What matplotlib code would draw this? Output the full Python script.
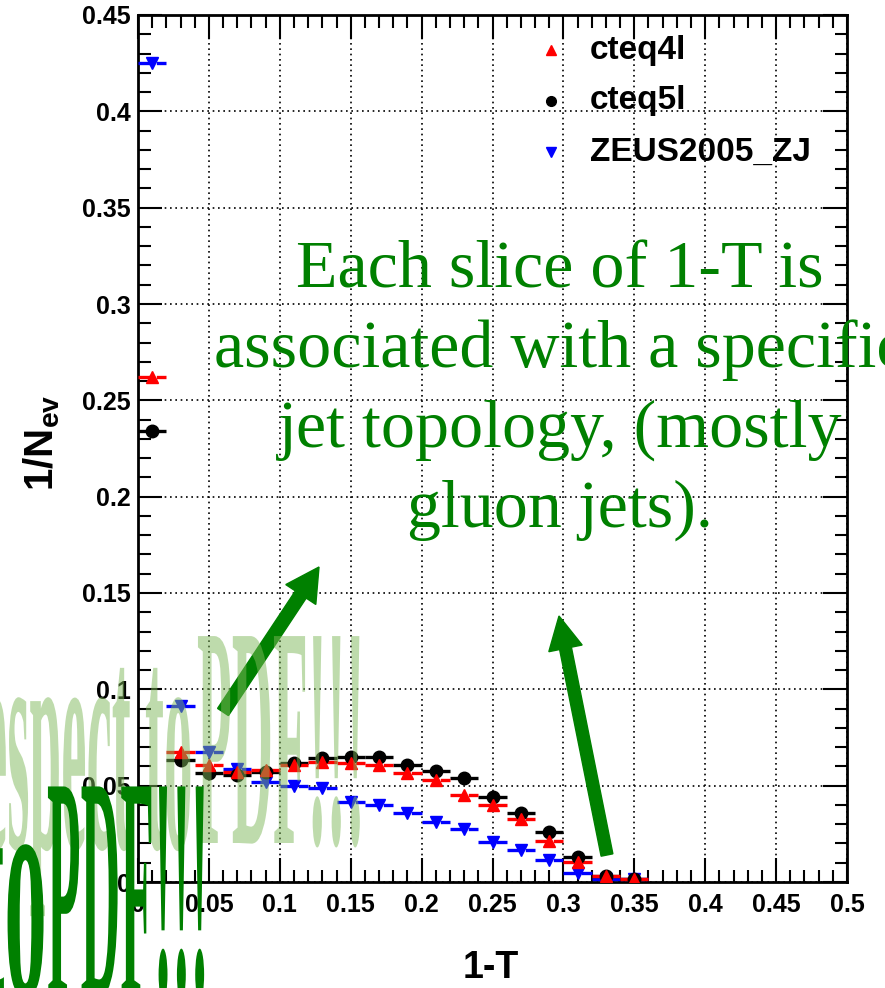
import matplotlib
matplotlib.use("Agg")
import matplotlib.pyplot as plt
from matplotlib.textpath import TextPath
from matplotlib.patches import PathPatch, FancyArrow
from matplotlib.font_manager import FontProperties
from matplotlib.transforms import Affine2D
from matplotlib.ticker import MultipleLocator, FixedLocator, FixedFormatter

# bin centres of 1-T (bin width 0.02)
x_bins = [0.01, 0.03, 0.05, 0.07, 0.09, 0.11, 0.13, 0.15, 0.17,
          0.19, 0.21, 0.23, 0.25, 0.27, 0.29, 0.31, 0.33, 0.35]
half_width = 0.01

cteq4l = [0.262, 0.0676, 0.0607, 0.0570, 0.0580, 0.0607, 0.0625, 0.0620, 0.0607,
          0.0564, 0.0532, 0.0454, 0.0400, 0.0325, 0.0215, 0.0105, 0.0030, 0.0014]
cteq5l = [0.234, 0.0633, 0.0564, 0.0555, 0.0572, 0.0616, 0.0642, 0.0651, 0.0647,
          0.0607, 0.0577, 0.0540, 0.0440, 0.0360, 0.0258, 0.0131, 0.0031, 0.0015]
zeus = [0.425, 0.0915, 0.0676, 0.0585, 0.0520, 0.0498, 0.0486, 0.0417, 0.0398,
        0.0358, 0.0310, 0.0275, 0.0209, 0.0166, 0.0114, 0.0048, 0.0015, 0.0017]

x_ticks = [0, 0.05, 0.1, 0.15, 0.2, 0.25, 0.3, 0.35, 0.4, 0.45, 0.5]
x_labels = ["0", "0.05", "0.1", "0.15", "0.2", "0.25", "0.3", "0.35", "0.4", "0.45", "0.5"]
y_ticks = [0, 0.05, 0.1, 0.15, 0.2, 0.25, 0.3, 0.35, 0.4, 0.45]
y_labels = ["0", "0.05", "0.1", "0.15", "0.2", "0.25", "0.3", "0.35", "0.4", "0.45"]

caption = ["Each slice of 1-T is", "associated with a specific",
           "jet topology, (mostly", "gluon jets)."]

plt.rcParams["font.family"] = ["Liberation Sans", "DejaVu Sans"]
plt.rcParams["font.weight"] = "bold"
plt.rcParams["mathtext.fontset"] = "custom"
plt.rcParams["mathtext.bf"] = "Liberation Sans:bold"
plt.rcParams["mathtext.rm"] = "Liberation Sans:bold"

W, H = 885, 988
GREEN = "#008000"
fig = plt.figure(figsize=(W / 100, H / 100), dpi=100)
ax = fig.add_axes([138 / W, (H - 882) / H, (847 - 138) / W, (882 - 15) / H])


def to_in(x, y):
    # picture pixels (top-left origin) -> figure inches
    return x / 100, (H - y) / 100


series = [(zeus, "v", "blue", (0, (4, 1.5))),
          (cteq5l, "o", "black", "-"),
          (cteq4l, "^", "red", (0, (4, 1.5)))]
for vals, mk, col, ls in series:
    cont = ax.errorbar(x_bins, vals, xerr=half_width, fmt=mk, color=col, ms=9,
                       elinewidth=2.4, capsize=0, zorder=3)
    cont[2][0].set_linestyle(ls)

ax.set_xlim(0, 0.5)
ax.set_ylim(0, 0.45)
ax.xaxis.set_major_locator(FixedLocator(x_ticks))
ax.xaxis.set_major_formatter(FixedFormatter(x_labels))
ax.yaxis.set_major_locator(FixedLocator(y_ticks))
ax.yaxis.set_major_formatter(FixedFormatter(y_labels))
ax.xaxis.set_minor_locator(MultipleLocator(0.01))
ax.yaxis.set_minor_locator(MultipleLocator(0.01))
ax.tick_params(which="both", direction="in", top=True, right=True, width=1.5)
ax.tick_params(which="major", length=17, labelsize=18)
ax.tick_params(which="minor", length=9)
ax.tick_params(axis="x", pad=8)
ax.tick_params(axis="y", pad=5)
ax.grid(True, which="major", color="black", linestyle=(0, (1, 2.2)), linewidth=1.2)
for sp in ax.spines.values():
    sp.set_linewidth(2)

# legend
leg_items = [("cteq4l", "^", "red"), ("cteq5l", "o", "black"), ("ZEUS2005_ZJ", "v", "blue")]
for i, (lab, mk, col) in enumerate(leg_items):
    yy = 1 - (50 + 51 * i - 15) / (882 - 15)
    ax.plot([(551 - 138) / (847 - 138)], [yy], mk, color=col, ms=7, transform=ax.transAxes,
            clip_on=False)
    ax.text((590 - 138) / (847 - 138), yy, lab, transform=ax.transAxes, fontsize=24,
            fontweight="bold", va="center", ha="left")

fig.text(491 / W, 1 - 968 / H, "1-T", ha="center", va="center", fontsize=27, fontweight="bold")
fig.text(42 / W, 1 - 443 / H, r"$\mathbf{1/N_{ev}}$", ha="center", va="center", rotation=90,
         fontsize=29)

# arrow under the faded overlay
x0, y0 = to_in(223, 712)
x1, y1 = to_in(319, 567)
fig.add_artist(FancyArrow(x0, y0, x1 - x0, y1 - y0, width=0.13, head_width=0.36,
                          head_length=0.33, length_includes_head=True, color=GREEN,
                          transform=fig.dpi_scale_trans, zorder=2))

serif = FontProperties(family="Liberation Serif")


def stretched(text, x, y, sx, sy, color, alpha, z):
    path = TextPath((0, 0), text, size=1, prop=serif)
    tr = Affine2D().scale(sx / 100, sy / 100).translate(*to_in(x, y)) + fig.dpi_scale_trans
    fig.add_artist(PathPatch(path, transform=tr, facecolor=color, edgecolor="none",
                             alpha=alpha, zorder=z))


stretched("espect to", -18, 848, 57, 320, "#7fb85a", 0.5, 3)
stretched("PDF!!!", 197, 843, 57, 316, "#7fb85a", 0.5, 3)
stretched("to", -24, 996, 85, 322, GREEN, 1, 4)
stretched("PDF!!!", 47, 996, 55, 320, GREEN, 1, 4)

x0, y0 = to_in(607, 855)
x1, y1 = to_in(559, 616)
fig.add_artist(FancyArrow(x0, y0, x1 - x0, y1 - y0, width=0.12, head_width=0.34,
                          head_length=0.33, length_includes_head=True, color=GREEN,
                          transform=fig.dpi_scale_trans, zorder=4))

for i, line in enumerate(caption):
    fig.text(560 / W, 1 - (287 + 80 * i) / H, line, ha="center", va="baseline",
             fontsize=49, color=GREEN, family="Liberation Serif", fontweight="normal",
             zorder=5)

fig.savefig("out.png", dpi=100)
